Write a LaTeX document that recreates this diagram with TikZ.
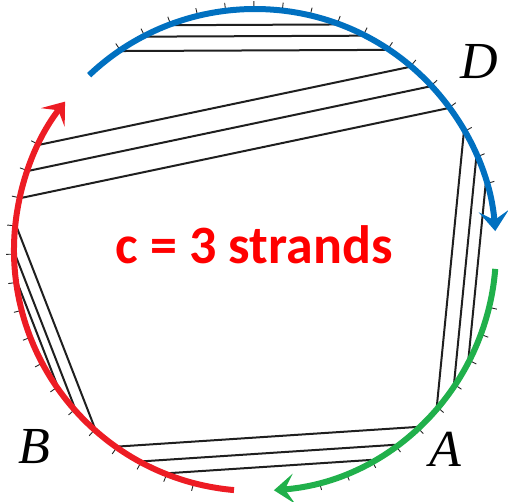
\documentclass[tikz,border=0pt]{standalone}
\usepackage{fontspec}
\setmainfont{Liberation Serif}
\newfontfamily\sansfont{Carlito}
\usetikzlibrary{arrows.meta}

\definecolor{arcblue}{RGB}{0,112,192}
\definecolor{arcred}{RGB}{237,28,36}
\definecolor{arcgreen}{RGB}{32,176,75}

\begin{document}
\begin{tikzpicture}[x=1pt, y=1pt,
        strand/.style={line width=2pt, draw=black!88},
        tickmark/.style={line width=0.9pt, draw=black!85},
        flow/.style={line width=6pt, -{Stealth[length=20pt, width=30pt, inset=9pt]}},
        corner/.style={font=\fontsize{52}{52}\selectfont\itshape, inner sep=0pt}]
    \useasboundingbox (-255,-252) rectangle (253,250);
    % points on the circle, with their tick marks
    \foreach \k in {0,...,16} {
        \coordinate (u\k) at ({124-6.75*\k}:240);
        \draw[tickmark] (u\k) -- ({124-6.75*\k}:249);
    }
    \foreach \k in {0,...,15} {
        \coordinate (l\k) at ({154+6.75*\k}:240);
        \draw[tickmark] (l\k) -- ({154+6.75*\k}:249);
    }
    \foreach \k in {0,...,9} {
        \coordinate (r\k) at ({-74.5+6.75*\k}:240);
        \draw[tickmark] (r\k) -- ({-74.5+6.75*\k}:249);
    }
    % the five bands of strands
    \foreach \a/\b in {u0/u10, u1/u9, u2/u8,
                       l0/u11, l1/u12, l2/u13,
                       u14/r5, u15/r6, u16/r7,
                       l12/r4, l13/r3, l14/r2,
                       l3/l11, l4/l10, l5/l9}
        \draw[strand] (\a) -- (\b);
    % coloured arcs
    \draw[flow, draw=arcblue] (133.5:241) arc[start angle=133.5, end angle=4.5, radius=241];
    \draw[flow, draw=arcred] (265:241) arc[start angle=265, end angle=142, radius=241];
    \draw[flow, draw=arcgreen] (-4.5:241) arc[start angle=-4.5, end angle=-85.5, radius=241];
    \node[font=\sansfont\bfseries\fontsize{54}{54}\selectfont, text=red] (title) at (-1,5) {c = 3 strands};
    \node[corner] (D) at (224,188) {D};
    \node[corner] (B) at (-221,-197) {B};
    \node[corner] (A) at (190,-199) {A};
\end{tikzpicture}
\end{document}
